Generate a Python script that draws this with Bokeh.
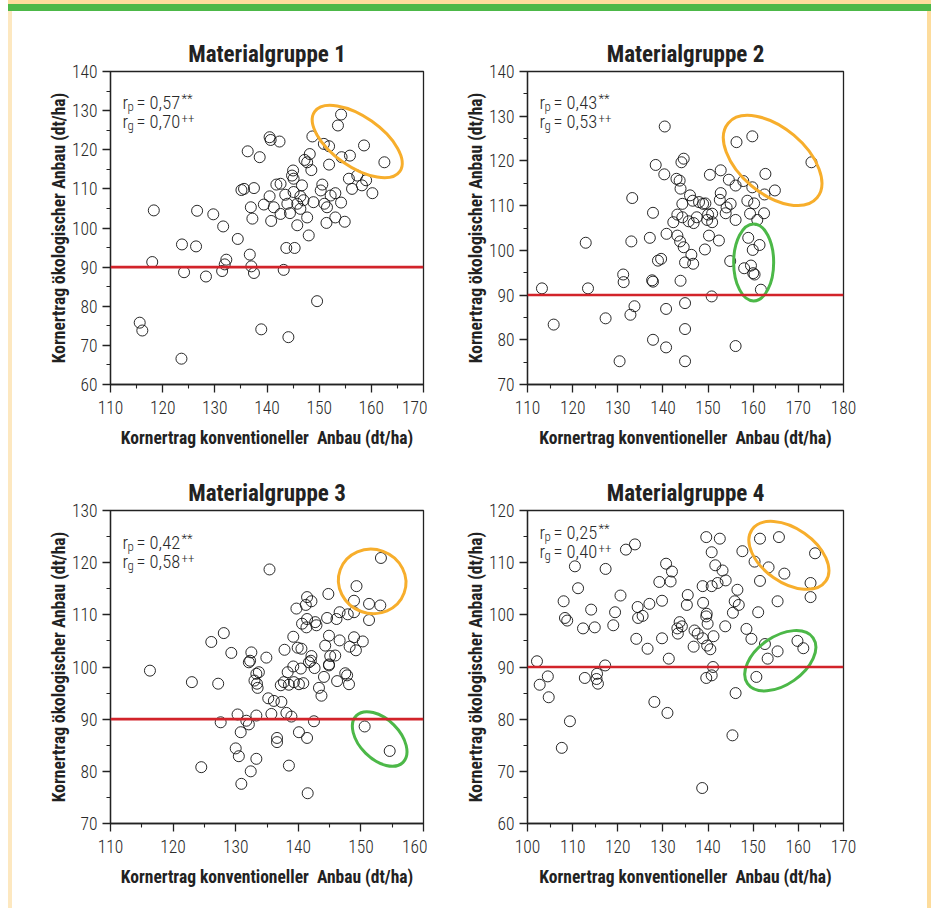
from bokeh.plotting import figure
from bokeh.models import Span, Label, Div, FixedTicker, Range1d
from bokeh.layouts import column, row
from bokeh.embed import file_html
from bokeh.resources import INLINE
import math

FONT = "Roboto Condensed, Liberation Sans Narrow, Roboto"
FONT_LIGHT = "Roboto Condensed Light, Roboto Condensed, Roboto"

# ---------------- data ----------------
titles = ["Materialgruppe 1", "Materialgruppe 2", "Materialgruppe 3", "Materialgruppe 4"]
x_label = "Kornertrag konventioneller  Anbau (dt/ha)"
y_label = "Kornertrag ökologischer Anbau (dt/ha)"
r_p = ["0,57", "0,43", "0,42", "0,25"]
r_g = ["0,70", "0,53", "0,58", "0,40"]
x_limits = [(110, 170), (110, 180), (110, 160), (100, 170)]
y_limits = [(60, 140), (70, 140), (70, 130), (60, 120)]
threshold = 90

g1_x = [154.2, 153.6, 148.7, 150.9, 151.9, 140.5, 140.7, 142.4, 158.6, 162.5, 136.3, 138.6, 148.2, 147.2,
        147.7, 148.5, 151.9, 154.3, 155.9, 145.0, 144.8, 145.1, 141.8, 142.6, 146.7, 135.6, 135.1, 137.5,
        150.6, 150.3, 155.7, 157.3, 159.0, 158.2, 156.3, 153.1, 152.2, 160.2, 143.5, 145.1, 146.4, 147.0,
        140.5, 139.4, 136.9, 141.3, 143.9, 145.8, 148.9, 151.0, 151.5, 154.2, 142.6, 144.4, 146.4, 147.7,
        137.2, 140.8, 145.8, 151.4, 153.1, 154.9, 118.3, 126.6, 129.7, 131.6, 134.4, 123.7, 126.4, 148.0,
        143.7, 145.3, 136.7, 118.0, 132.2, 131.9, 124.1, 128.3, 131.4, 137.0, 137.5, 143.2, 149.6, 115.6,
        116.1, 138.9, 144.1, 123.6]
g1_y = [129.0, 126.2, 123.4, 121.5, 120.9, 123.2, 122.5, 122.1, 121.1, 116.8, 119.6, 118.1, 118.9, 117.4,
        116.8, 114.8, 116.2, 118.1, 118.5, 114.7, 113.4, 112.6, 111.1, 111.3, 110.9, 110.0, 109.7, 110.2,
        111.1, 109.6, 112.6, 113.4, 112.2, 110.9, 110.0, 108.9, 108.3, 108.9, 108.5, 109.2, 108.1, 107.1,
        108.1, 106.0, 105.3, 105.3, 106.2, 106.2, 106.6, 106.2, 105.3, 106.5, 103.6, 103.8, 104.9, 102.7,
        102.4, 101.8, 100.7, 101.3, 102.7, 101.6, 104.5, 104.4, 103.5, 100.4, 97.2, 95.8, 95.3, 98.1,
        94.9, 94.9, 93.2, 91.3, 91.9, 90.7, 88.7, 87.6, 89.0, 90.2, 88.5, 89.3, 81.3, 75.8,
        73.8, 74.1, 72.1, 66.6]

g2_x = [140.4, 156.3, 159.8, 172.9, 162.7, 164.8, 162.5, 159.8, 157.8, 156.1, 154.6, 152.8, 150.4, 144.6,
        144.1, 138.4, 140.3, 143.0, 143.7, 143.9, 133.2, 146.0, 146.6, 148.0, 148.9, 149.4, 144.3, 152.8,
        152.6, 155.0, 154.1, 158.7, 160.2, 162.4, 159.3, 160.9, 137.8, 143.2, 142.3, 144.3, 145.7, 146.8,
        147.5, 150.0, 150.9, 149.8, 150.9, 153.9, 156.1,
        140.8, 143.2, 143.8, 144.6, 150.2, 152.4, 149.3, 146.3, 146.7, 144.9, 138.9, 139.6, 137.1, 133.0,
        122.9, 154.9, 158.9, 161.4, 159.9, 159.5, 158.0, 160.0, 160.3, 161.7, 131.2, 131.3, 137.6, 137.8,
        143.9, 113.2, 123.4, 150.8, 133.7, 132.8, 127.3, 140.7, 144.9, 115.8, 144.9, 137.8, 140.7, 156.1,
        130.4, 144.9]
g2_y = [127.7, 124.2, 125.5, 119.7, 117.1, 113.4, 112.5, 114.1, 115.5, 114.5, 115.8, 117.9, 116.9, 120.5,
        119.7, 119.1, 117.0, 116.0, 115.6, 113.8, 111.7, 112.3, 111.1, 110.8, 110.4, 110.5, 110.4, 112.8,
        111.3, 110.4, 109.6, 111.1, 110.5, 108.3, 108.2, 106.8, 108.4, 108.0, 106.3, 107.4, 106.5, 106.1,
        107.4, 108.0, 108.2, 106.8, 106.3, 108.3, 106.8,
        103.7, 103.3, 102.0, 100.7, 103.3, 102.2, 100.2, 99.0, 97.0, 97.3, 97.7, 98.1, 102.8, 102.0,
        101.7, 97.6, 102.8, 101.2, 100.1, 96.6, 96.0, 94.9, 94.6, 91.2, 94.6, 92.9, 93.3, 93.0,
        93.2, 91.5, 91.5, 89.7, 87.5, 85.6, 84.8, 86.9, 88.2, 83.4, 82.4, 80.0, 78.3, 78.6,
        75.2, 75.2]

g3_x = [153.2, 135.4, 149.3, 144.8, 148.9, 151.3, 153.1, 141.4, 142.1, 141.2, 139.7, 146.6, 147.9, 148.9,
        144.6, 146.1, 151.3, 141.4, 142.7, 140.6, 141.3, 142.9, 128.1, 126.1, 139.2, 144.9, 146.6, 148.9,
        150.3, 144.3, 148.2, 149.2, 129.3, 132.5, 137.8, 139.9, 140.5, 142.1, 132.3, 134.9, 145.1, 145.9,
        142.0, 144.9,
        116.3, 123.0, 127.2, 132.1, 133.7, 133.3, 133.0, 133.4, 133.5, 138.3, 139.2, 140.4, 141.7, 142.6,
        144.9, 144.1, 147.5, 147.8, 146.2, 148.1, 137.2, 137.7, 138.5, 139.3, 140.1, 140.8, 143.3, 143.7,
        135.2, 136.1, 137.3, 130.3, 133.3, 135.7, 138.1, 138.9, 127.6, 131.7, 132.1, 142.5, 130.8, 136.6,
        136.6, 140.1, 141.4, 150.6, 154.6, 130.0, 130.5, 133.3, 124.5, 138.5, 132.4, 130.9, 141.5]
g3_y = [120.9, 118.7, 115.5, 114.0, 112.7, 112.1, 111.8, 113.4, 112.6, 111.9, 111.2, 110.5, 110.1, 110.5,
        109.4, 109.2, 109.0, 109.2, 108.6, 108.3, 107.6, 108.0, 106.5, 104.8, 105.8, 106.0, 105.1, 105.7,
        104.9, 104.1, 103.9, 103.2, 102.7, 102.8, 103.3, 103.7, 103.5, 102.1, 101.2, 101.8, 102.1, 102.2,
        101.2, 100.3,
        99.3, 97.1, 96.8, 100.9, 99.0, 98.7, 97.4, 96.8, 96.0, 99.0, 100.1, 99.7, 100.9, 99.8,
        100.5, 98.1, 98.8, 98.4, 97.3, 96.7, 96.5, 97.1, 96.6, 97.1, 96.7, 96.9, 96.0, 94.5,
        94.0, 93.5, 93.3, 90.9, 90.7, 91.0, 91.2, 90.5, 89.4, 89.7, 89.0, 89.6, 87.5, 86.4,
        85.6, 87.5, 86.4, 88.6, 83.9, 84.4, 82.9, 82.4, 80.8, 81.1, 80.0, 77.6, 75.8]

g4_x = [139.6, 142.6, 140.8, 151.5, 155.7, 163.7, 123.8, 121.8, 147.6, 150.3, 153.4, 156.9, 162.7, 162.7,
        151.5, 155.4, 151.1, 141.6, 143.2, 143.9, 142.1, 140.8, 138.8, 146.5, 145.9, 146.8, 145.5, 138.9,
        139.7, 139.9, 139.6, 143.8, 148.5, 149.6, 130.7, 132.0, 129.2, 131.7, 135.5, 135.3, 129.8, 127.0,
        124.4, 124.5, 125.5, 120.6, 119.4, 119.0, 117.3, 110.5, 111.2, 108.0, 114.1, 108.3, 108.8, 112.3,
        114.9, 133.7, 134.2, 133.2, 133.3, 137.0, 137.7, 138.8, 141.2, 139.8, 140.5, 136.8, 124.1, 129.8,
        126.6, 131.3, 102.1, 117.2, 152.6, 155.4, 153.2, 159.8, 161.1,
        141.1, 140.8, 139.6, 150.7, 146.1, 104.5, 102.7, 104.7, 112.7, 115.4, 115.3, 115.6, 128.1, 131.0,
        109.4, 107.6, 145.4, 138.7]
g4_y = [114.9, 114.6, 112.0, 114.6, 114.9, 111.8, 113.5, 112.5, 112.2, 110.2, 109.1, 107.9, 106.1, 103.4,
        106.5, 102.6, 100.5, 109.5, 108.5, 106.6, 106.1, 105.5, 105.5, 104.8, 102.6, 101.9, 100.4, 102.3,
        100.2, 98.3, 99.7, 97.8, 97.3, 95.4, 109.8, 108.3, 106.3, 106.4, 103.8, 101.9, 102.7, 102.1,
        101.5, 99.4, 99.8, 103.7, 100.5, 98.0, 108.8, 109.3, 105.1, 102.6, 101.0, 99.4, 98.9, 97.4,
        97.6, 98.6, 97.8, 97.4, 96.4, 97.0, 96.4, 95.5, 95.9, 94.1, 93.4, 93.9, 95.4, 95.5,
        93.5, 91.6, 91.1, 90.3, 94.4, 93.0, 91.6, 95.0, 93.6,
        90.0, 88.4, 87.9, 88.1, 85.0, 88.2, 86.6, 84.2, 87.9, 88.7, 87.7, 86.8, 83.3, 81.2,
        79.6, 74.5, 76.9, 66.8]

xs = [g1_x, g2_x, g3_x, g4_x]
ys = [g1_y, g2_y, g3_y, g4_y]

# ---------------- layout / style (not data) ----------------
ORANGE = "#f7ae2c"
GREEN = "#4cb848"
RED = "#d2232a"
YELLOW = "#fddc9c"
PALE = "#fde8c0"
TXT = "#222222"

orange_ell = [(157.3, 122.1, 104, 50, -35), (164.3, 120.1, 116, 66, -40),
              (151.8, 116.4, 68, 64, -20), (157.9, 111.4, 90, 54, -35)]
green_ell = [None, (160.1, 97.3, 40, 77, 0), (153.0, 86.2, 66, 40, -45), (156.0, 91.2, 80, 48, 35)]

frame_w = [313, 316, 313, 316]
frame_h = 313
borders = [  # left, right, top, bottom
    (98, 4, 60, 76),
    (100, 84, 60, 76),
    (98, 4, 50, 80),
    (100, 84, 50, 80),
]
anno_top = [31.7, 31.7, 32.7, 22.7]


def make_panel(i):
    x0, x1 = x_limits[i]
    y0, y1 = y_limits[i]
    bl, br, bt, bb = borders[i]
    p = figure(frame_width=frame_w[i], frame_height=frame_h, output_backend="svg",
               toolbar_location=None, x_range=Range1d(x0, x1), y_range=Range1d(y0, y1),
               min_border_left=bl, min_border_right=br, min_border_top=bt, min_border_bottom=bb,
               background_fill_color="white", border_fill_color="white")
    p.title.text = titles[i]
    p.title.align = "center"
    p.title.text_font = FONT
    p.title.text_font_size = "23px"
    p.title.text_font_style = "bold"
    p.title.text_color = TXT
    p.title.standoff = 8

    p.xgrid.grid_line_color = None
    p.ygrid.grid_line_color = None
    p.outline_line_color = "#222222"
    p.outline_line_width = 1.3
    p.outline_line_alpha = 1

    p.xaxis.ticker = FixedTicker(ticks=list(range(x0, x1 + 1, 10)),
                                 minor_ticks=list(range(x0 + 5, x1, 10)))
    p.yaxis.ticker = FixedTicker(ticks=list(range(y0, y1 + 1, 10)),
                                 minor_ticks=list(range(y0 + 5, y1, 10)))
    for ax in (p.xaxis[0], p.yaxis[0]):
        ax.axis_line_color = "#222222"
        ax.axis_line_width = 1.3
        ax.major_tick_line_color = "#222222"
        ax.minor_tick_line_color = "#222222"
        ax.major_tick_line_width = 1.3
        ax.minor_tick_line_width = 1.1
        ax.major_tick_out = 8
        ax.major_tick_in = 0
        ax.minor_tick_out = 4
        ax.minor_tick_in = 0
        ax.major_label_text_font = FONT_LIGHT
        ax.major_label_text_font_size = "17.5px"
        ax.major_label_text_color = "#2a2a2a"
        ax.axis_label_text_font = FONT
        ax.axis_label_text_font_size = "17.5px"
        ax.axis_label_text_font_style = "bold"
        ax.axis_label_text_color = TXT
    p.xaxis.axis_label = x_label.replace("  ", "\u00a0 ")
    p.yaxis.axis_label = y_label
    p.xaxis.major_label_standoff = 8
    p.xaxis.axis_label_standoff = 11
    p.yaxis.major_label_standoff = 5
    p.yaxis.axis_label_standoff = 0

    p.add_layout(Span(location=threshold, dimension="width", line_color=RED, line_width=2.6))

    p.scatter(xs[i], ys[i], marker="circle", size=11, fill_color=None,
              line_color="#111111", line_width=0.9)

    for spec, col in ((orange_ell[i], ORANGE), (green_ell[i], GREEN)):
        if spec is None:
            continue
        cx, cy, w, h, ang = spec
        p.ellipse(x=[cx], y=[cy], width=w, height=h, width_units="screen", height_units="screen",
                  angle=math.radians(ang), fill_color=None, line_color=col, line_width=3)

    top = frame_h - anno_top[i]
    lines = [("p", r_p[i], "**", 4.5), ("g", r_g[i], "++", 3.0)]
    for k, (sub, val, sup, sup_raise) in enumerate(lines):
        base = top - k * 18.5
        common = dict(x_units="screen", y_units="screen", text_font=FONT_LIGHT,
                      text_color="#2a2a2a", text_baseline="alphabetic")
        p.add_layout(Label(x=12, y=base, text="r", text_font_size="18.5px", **common))
        p.add_layout(Label(x=17, y=base - 3.5, text=sub, text_font_size="13px", **common))
        p.add_layout(Label(x=26, y=base, text="= " + val, text_font_size="18.5px", **common))
        p.add_layout(Label(x=71, y=base + sup_raise, text=sup, text_font_size="13px", **common))
    return p


panels = [make_panel(i) for i in range(4)]

top_bar = Div(text="", width=931, height=11, margin=0, styles={
    "background": "linear-gradient(to right, #ffffff 0px, #ffffff 8px, transparent 8px), "
                  f"linear-gradient(to bottom, {YELLOW} 0px, {YELLOW} 4px, {GREEN} 4px, {GREEN} 11px)"})
left_strip = Div(text="", width=12, height=897, margin=0, styles={
    "background": f"linear-gradient(to right, #ffffff 0px, #ffffff 8px, {PALE} 8px, {PALE} 12px)"})
right_strip = Div(text="", width=4, height=897, margin=0, styles={"background": YELLOW})

grid = column(row(panels[0], panels[1]), row(panels[2], panels[3]))
layout = column(top_bar, row(left_strip, grid, right_strip))

with open("out.html", "w") as f:
    f.write(file_html(layout, INLINE))
